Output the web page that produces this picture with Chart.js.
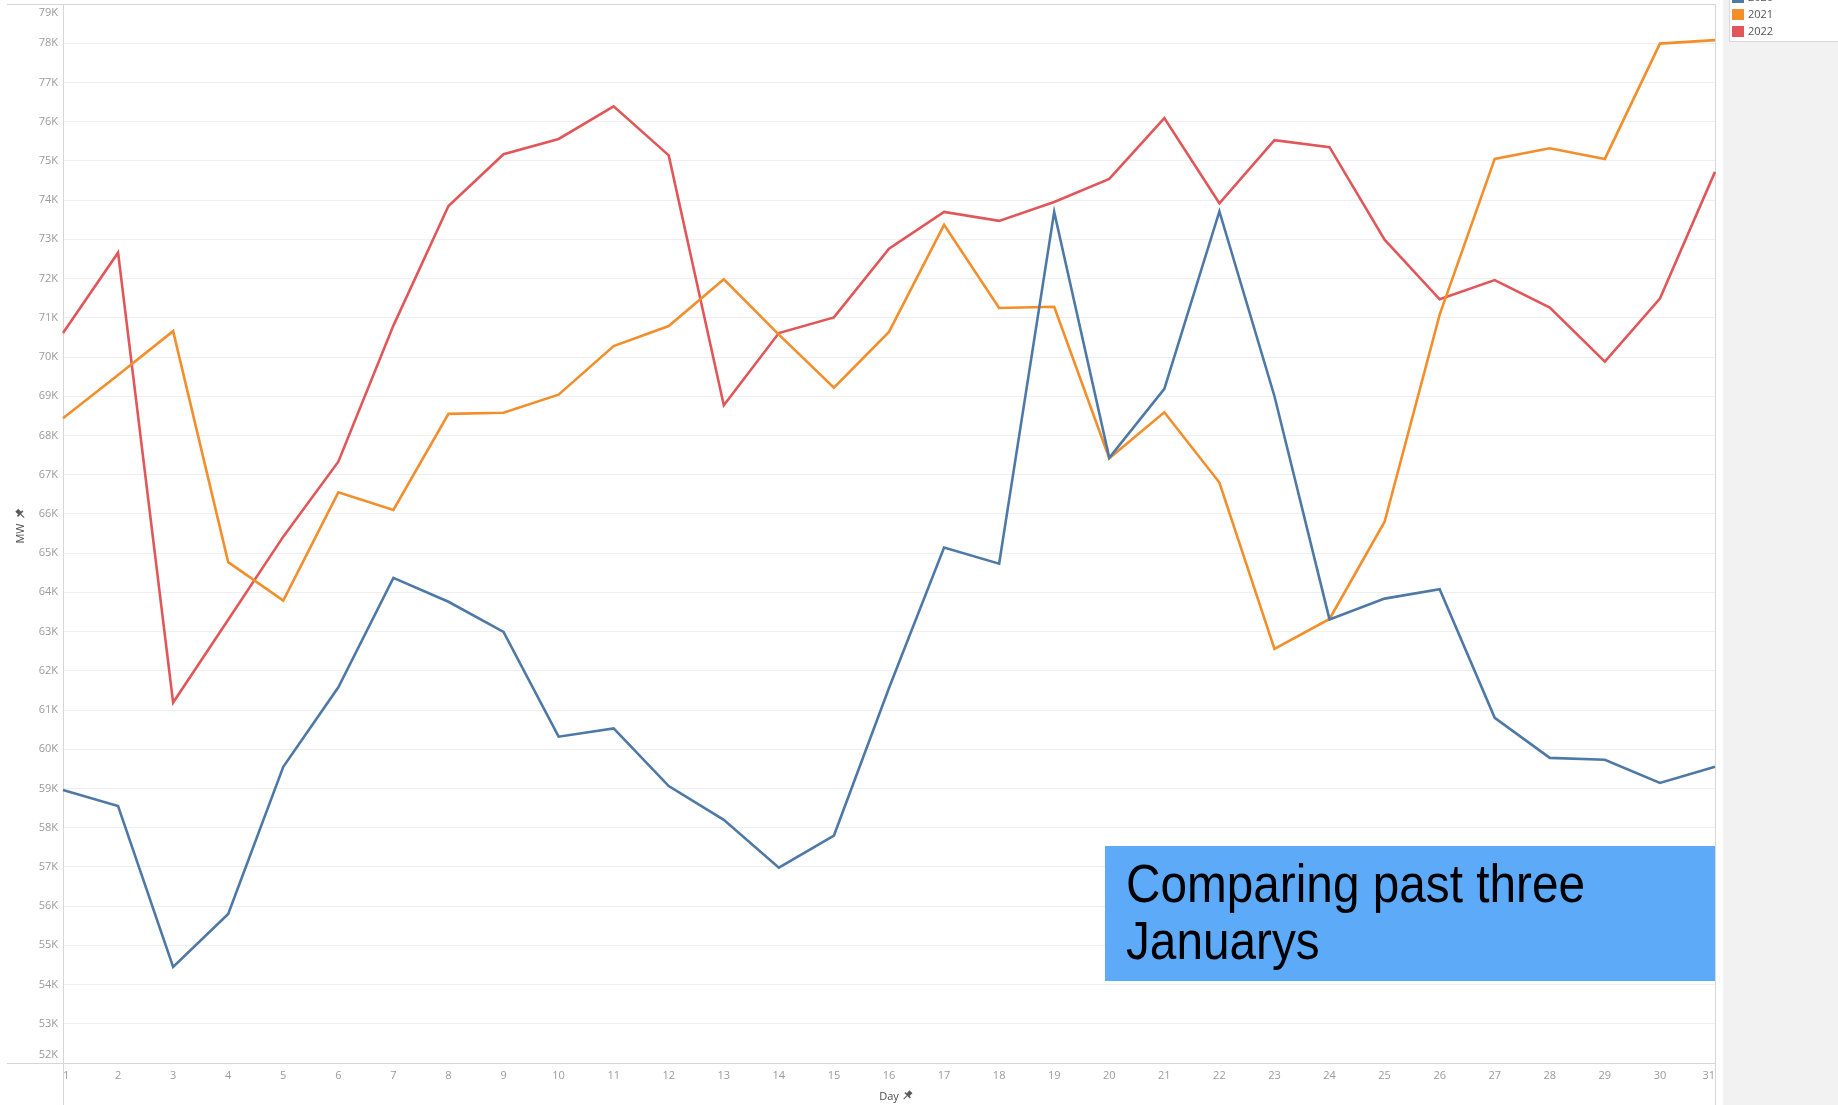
<!DOCTYPE html>
<html>
<head>
<meta charset="utf-8">
<script src="https://cdn.jsdelivr.net/npm/chart.js@4.4.1/dist/chart.umd.min.js"></script>
<style>
  html, body { margin: 0; padding: 0; background: #fff; }
  #wrap { position: relative; width: 1838px; height: 1105px; }
</style>
</head>
<body>
<div id="wrap"><canvas id="c"></canvas></div>
<script>
// ---- data ----
const days = ['1','2','3','4','5','6','7','8','9','10','11','12','13','14','15','16',
              '17','18','19','20','21','22','23','24','25','26','27','28','29','30','31'];
const years = ['2020', '2021', '2022'];
const mw2020 = [58960, 58550, 54450, 55800, 59550, 61580, 64370, 63760, 62990, 60320, 60530,
                59060, 58200, 56980, 57800, 61560, 65140, 64730, 73700, 67430, 69190, 73710,
                69000, 63310, 63840, 64080, 60800, 59780, 59730, 59140, 59550];
const mw2021 = [68440, 69540, 70660, 64770, 63790, 66550, 66100, 68550, 68580, 69040, 70280,
                70790, 71980, 70570, 69220, 70640, 73370, 71250, 71280, 67420, 68590, 66800,
                62560, 63320, 65800, 71080, 75050, 75320, 75050, 77990, 78080];
const mw2022 = [70610, 72660, 61190, 63300, 65420, 67330, 70800, 73850, 75170, 75560, 76390,
                75140, 68770, 70610, 71010, 72760, 73700, 73470, 73950, 74540, 76090, 73920,
                75530, 75350, 72990, 71470, 71960, 71260, 69880, 71490, 74720];
const yMin = 52000, yMax = 79000, yStep = 1000;
const xTitle = 'Day', yTitle = 'MW';
const noteLines = ['Comparing past three', 'Januarys'];

// ---- styles ----
const FONT = '"Open Sans", "Noto Sans", "DejaVu Sans", sans-serif';
const colors = ['#4e79a7', '#f28e2b', '#e15759'];
const tickColor = '#9a9a9a';
const titleColor = '#4d4d4d';
const frameColor = '#d6d6d6';

function drawPin(ctx, x, y, rot) {
  ctx.save();
  ctx.translate(x, y);
  ctx.rotate(rot);
  ctx.fillStyle = '#5a5a5a';
  ctx.strokeStyle = '#5a5a5a';
  ctx.fillRect(-2, -6, 4, 4.5);
  ctx.fillRect(-3.8, -2, 7.6, 1.6);
  ctx.lineWidth = 1.1;
  ctx.beginPath();
  ctx.moveTo(0, -0.5);
  ctx.lineTo(0, 4.5);
  ctx.stroke();
  ctx.restore();
}

const frame = {
  id: 'frame',
  beforeDraw(chart) {
    const { ctx, chartArea: a, width, height } = chart;
    ctx.save();
    ctx.fillStyle = '#ffffff';
    ctx.fillRect(0, 0, width, height);
    ctx.fillStyle = '#f2f2f2';
    ctx.fillRect(a.right + 8, 0, width - a.right - 8, height);
    ctx.restore();
  },
  beforeDatasetsDraw(chart) {
    const { ctx, chartArea: a, height } = chart;
    ctx.save();
    ctx.strokeStyle = frameColor;
    ctx.lineWidth = 1;
    ctx.beginPath();
    ctx.moveTo(7, a.top + 0.5); ctx.lineTo(a.right, a.top + 0.5);
    ctx.moveTo(7, a.bottom + 0.5); ctx.lineTo(a.right, a.bottom + 0.5);
    ctx.moveTo(a.left + 0.5, a.top); ctx.lineTo(a.left + 0.5, height);
    ctx.moveTo(a.right + 0.5, a.top); ctx.lineTo(a.right + 0.5, height);
    ctx.stroke();
    ctx.restore();
  },
  afterDatasetsDraw(chart) {
    const { ctx, chartArea: a } = chart;
    const boxL = a.right - 610, boxT = 846, boxB = 981;
    ctx.save();
    ctx.fillStyle = '#5dabf8';
    ctx.fillRect(boxL, boxT, a.right - boxL, boxB - boxT);
    ctx.fillStyle = '#000';
    ctx.font = '54px "Liberation Sans Narrow", "Liberation Sans", Arial, sans-serif';
    ctx.textBaseline = 'alphabetic';
    ctx.textAlign = 'left';
    const w = ctx.measureText(noteLines[0]).width;
    const sx = 459 / w;
    const baselines = [902, 959];
    noteLines.forEach((t, i) => {
      ctx.save();
      ctx.translate(boxL + 21, baselines[i]);
      ctx.scale(sx, 1);
      ctx.fillText(t, 0, 0);
      ctx.restore();
    });
    ctx.restore();
  },
  afterDraw(chart) {
    const { ctx, chartArea: a, width } = chart;
    const ys = chart.scales.y;
    ctx.save();
    // edge y labels (Tableau pushes them inside)
    ctx.font = '11px ' + FONT;
    ctx.fillStyle = tickColor;
    ctx.textAlign = 'right';
    ctx.textBaseline = 'middle';
    ctx.fillText((yMax / 1000) + 'K', a.left - 5, ys.getPixelForValue(yMax) + 9);
    ctx.fillText((yMin / 1000) + 'K', a.left - 5, ys.getPixelForValue(yMin) - 8);

    // pins next to axis titles
    ctx.font = '11px ' + FONT;
    const wDay = ctx.measureText(xTitle).width;
    drawPin(ctx, (a.left + a.right) / 2 + wDay / 2 + 8, 1096, Math.PI / 4);
    const wMW = ctx.measureText(yTitle).width;
    drawPin(ctx, 21, (a.top + a.bottom) / 2 - wMW / 2 - 9, -Math.PI / 4);

    // legend box in the side panel
    const lx = a.right + 14;
    ctx.fillStyle = '#ffffff';
    ctx.fillRect(lx, -5, width - lx + 5, 46);
    ctx.strokeStyle = '#d9d9d9';
    ctx.lineWidth = 1;
    ctx.strokeRect(lx + 0.5, -5, width - lx + 5, 46.5);
    ctx.textAlign = 'left';
    ctx.textBaseline = 'middle';
    ctx.font = '11px ' + FONT;
    chart.data.datasets.forEach((ds, i) => {
      const cy = -2.5 + i * 17;
      ctx.fillStyle = ds.borderColor;
      ctx.fillRect(lx + 3, cy - 5.5, 12, 11);
      ctx.fillStyle = '#555555';
      ctx.fillText(ds.label, lx + 19, cy + 0.5);
    });
    ctx.restore();
  }
};

new Chart(document.getElementById('c'), {
  type: 'line',
  data: {
    labels: days,
    datasets: [
      { label: years[0], data: mw2020, borderColor: colors[0], backgroundColor: colors[0] },
      { label: years[1], data: mw2021, borderColor: colors[1], backgroundColor: colors[1] },
      { label: years[2], data: mw2022, borderColor: colors[2], backgroundColor: colors[2] }
    ]
  },
  options: {
    responsive: true,
    maintainAspectRatio: false,
    animation: false,
    devicePixelRatio: 1,
    layout: { padding: { top: 4, right: 123, bottom: 0, left: 0 } },
    elements: {
      point: { radius: 0, hoverRadius: 0 },
      line: { borderWidth: 2.6, tension: 0, fill: false, borderJoinStyle: 'miter' }
    },
    plugins: { legend: { display: false }, tooltip: { enabled: false } },
    scales: {
      x: {
        offset: false,
        grid: { display: false, drawTicks: false },
        border: { display: false },
        ticks: { autoSkip: false, maxRotation: 0, align: 'inner', padding: 6,
                 color: tickColor, font: { family: FONT, size: 11 } },
        title: { display: true, text: xTitle, color: titleColor,
                 font: { family: FONT, size: 11 }, padding: { top: 0, bottom: 2 } },
        afterFit(s) { s.height = 42; s.paddingLeft = 0; s.paddingRight = 0; }
      },
      y: {
        min: yMin, max: yMax,
        grid: { color: '#efefef', drawTicks: false, lineWidth: 1 },
        border: { display: false },
        ticks: {
          stepSize: yStep, padding: 5,
          callback: v => (v / 1000) + 'K',
          color: c => (c.tick && (c.tick.value === yMin || c.tick.value === yMax)) ? 'rgba(0,0,0,0)' : tickColor,
          font: { family: FONT, size: 11 }
        },
        title: { display: true, text: yTitle, color: titleColor,
                 font: { family: FONT, size: 11 }, padding: { top: 14, bottom: 0 } },
        afterFit(s) { s.width = 63; s.paddingTop = 0; s.paddingBottom = 0; }
      }
    }
  },
  plugins: [frame]
});
</script>
</body>
</html>
